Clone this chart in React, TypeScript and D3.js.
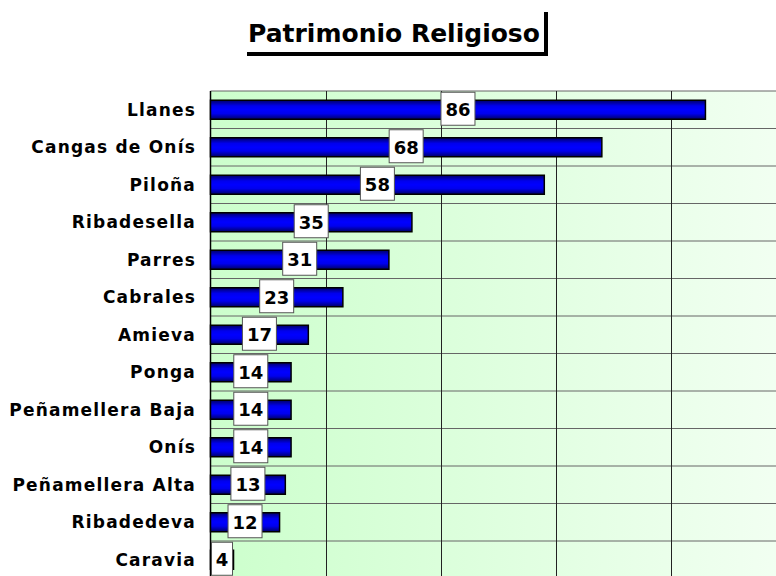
import React from 'react';
import { scaleLinear, scaleBand } from 'd3';

const categories = ['Llanes', 'Cangas de Onís', 'Piloña', 'Ribadesella', 'Parres', 'Cabrales', 'Amieva', 'Ponga', 'Peñamellera Baja', 'Onís', 'Peñamellera Alta', 'Ribadedeva', 'Caravia'];
const values = [86, 68, 58, 35, 31, 23, 17, 14, 14, 14, 13, 12, 4];
const gridTicks = [20, 40, 60, 80];
const title = 'Patrimonio Religioso';

const width = 776;
const height = 576;
const plot = { left: 210.5, top: 91, right: 786, bottom: 578.5 };
const font = '"DejaVu Sans", Verdana, sans-serif';

export default function App() {
  const x = scaleLinear().domain([0, 100]).range([plot.left, plot.right]);
  const y = scaleBand<string>().domain(categories).range([plot.top, plot.bottom]).paddingInner(0).paddingOuter(0);
  const step = y.step();
  const barH = 19;

  return (
    <svg width={width} height={height} style={{ position: 'absolute', left: 0, top: 0, background: '#fff' }}>
      <defs>
        <linearGradient id="bg" x1="0" x2="1" y1="0" y2="0">
          <stop offset="0%" stopColor="#ccffcc" />
          <stop offset="100%" stopColor="#f2fff2" />
        </linearGradient>
        <linearGradient id="bar" x1="0" x2="0" y1="0" y2="1">
          <stop offset="0%" stopColor="#000066" />
          <stop offset="30%" stopColor="#0000ee" />
          <stop offset="50%" stopColor="#0000ff" />
          <stop offset="70%" stopColor="#0000ee" />
          <stop offset="100%" stopColor="#000066" />
        </linearGradient>
      </defs>

      {/* title with shadow lines */}
      <text x={394} y={42} textAnchor="middle" fontFamily={font} fontWeight="bold" fontSize={25} fill="#000">{title}</text>
      <rect x={247} y={52} width={301} height={4} fill="#000" />
      <rect x={544} y={12} width={4} height={44} fill="#000" />

      {/* plot area */}
      <rect x={plot.left} y={plot.top} width={plot.right - plot.left} height={plot.bottom - plot.top} fill="url(#bg)" />
      {categories.map((c) => (
        <line key={'h' + c} x1={plot.left} x2={plot.right} y1={y(c) as number} y2={y(c) as number} stroke="#666" strokeWidth={1} />
      ))}
      {gridTicks.map((t) => (
        <line key={t} x1={Math.round(x(t)) + 0.5} x2={Math.round(x(t)) + 0.5} y1={plot.top} y2={plot.bottom} stroke="#222" strokeWidth={1} />
      ))}
      <line x1={plot.left} x2={plot.left} y1={plot.top} y2={plot.bottom} stroke="#000" strokeWidth={1.5} />

      {/* bars */}
      {categories.map((c, i) => {
        const cy = (y(c) as number) + step / 2;
        return (
          <rect key={'b' + c} x={x(0)} y={cy - barH / 2} width={x(values[i]) - x(0)} height={barH} fill="url(#bar)" stroke="#000" strokeWidth={1.5} />
        );
      })}

      {/* category labels */}
      {categories.map((c) => (
        <text key={'l' + c} x={196} y={(y(c) as number) + step / 2 + 6} textAnchor="end" fontFamily={font} fontWeight="bold" fontSize={17} letterSpacing={1.2} fill="#000">{c}</text>
      ))}

      {/* value labels */}
      {categories.map((c, i) => {
        const cy = (y(c) as number) + step / 2;
        const v = values[i];
        const w = String(v).length === 1 ? 21 : 34;
        let cx = (x(0) + x(v)) / 2;
        if (cx - w / 2 < x(0)) cx = x(0) + w / 2;
        return (
          <g key={'v' + c}>
            <rect x={cx - w / 2} y={cy - 17.5} width={w} height={33} fill="#fff" stroke="#555" strokeWidth={1} />
            <text x={cx} y={cy + 6.5} textAnchor="middle" fontFamily={font} fontWeight="bold" fontSize={18} fill="#000">{v}</text>
          </g>
        );
      })}
    </svg>
  );
}
